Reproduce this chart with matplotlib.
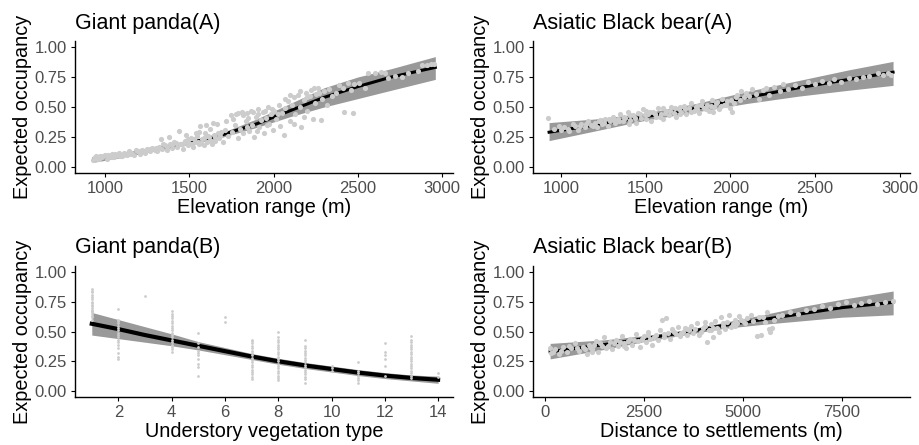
#!/usr/bin/env python3
import matplotlib
matplotlib.use("Agg")
import matplotlib.pyplot as plt

plt.rcParams["font.family"] = ["Liberation Sans", "DejaVu Sans"]

# ---- Giant panda(A): elevation ----
pa_curve_x = [935, 1100, 1300, 1500, 1700, 1900, 2100, 2300, 2500, 2700, 2960]
pa_mid = [0.067, 0.10, 0.15, 0.20, 0.27, 0.36, 0.47, 0.58, 0.67, 0.75, 0.83]
pa_lo = [0.04, 0.08, 0.135, 0.185, 0.25, 0.33, 0.42, 0.50, 0.57, 0.64, 0.73]
pa_hi = [0.10, 0.12, 0.165, 0.215, 0.29, 0.40, 0.53, 0.66, 0.75, 0.82, 0.92]
pa_pts_x = [930, 940, 955, 970, 985, 1000, 1010, 1025, 1040, 1055, 1070, 1085, 1100,
            1115, 1130, 1145, 1160, 1175, 1190, 1205, 1220, 1235, 1250, 1265, 1280, 1295,
            1310, 1320, 1330, 1340, 1355, 1370, 1385, 1400, 1410, 1425, 1440, 1450, 1460,
            1475, 1490, 1500, 1510, 1520, 1535, 1545, 1555, 1565, 1575, 1585, 1595, 1605,
            1615, 1625, 1635, 1645, 1655, 1665, 1675, 1690, 1700,
            945, 965, 990, 1015, 1035, 1060, 1090, 1110, 1135, 1155, 1185, 1210, 1240,
            1270, 1300, 1315, 1345, 1365, 1395, 1420, 1445, 1470, 1495, 1515, 1530, 1550,
            1570, 1590, 1610, 1630, 1650, 1670, 1685, 1560, 1600, 1640, 1540, 1480, 1380,
            1710, 1720, 1730, 1745, 1755, 1770, 1780, 1790, 1800, 1810, 1820, 1835, 1845,
            1855, 1865, 1875, 1885, 1895, 1905, 1915, 1925, 1935, 1945, 1955, 1965, 1975,
            1985, 1995, 2005, 2015, 2030, 2040, 2050, 2060,
            1760, 1790, 1820, 1850, 1880, 1910, 1950, 1990, 2025, 2070, 2100, 2160, 2200,
            2240, 2270, 1840, 1900, 1960, 2120, 2180,
            2070, 2085, 2095, 2110, 2120, 2130, 2145, 2155, 2165, 2180, 2190, 2200, 2215,
            2225, 2235, 2245, 2255, 2265, 2280, 2290, 2300, 2315, 2330, 2345, 2420, 2470,
            2370, 2390, 2410, 2440, 2460, 2480, 2510, 2540, 2560, 2600, 2640, 2660, 2680,
            2720, 2760, 2800, 2860, 2880, 2910, 2935, 2955]
pa_pts_y = [0.06, 0.08, 0.07, 0.09, 0.08, 0.10, 0.07, 0.09, 0.11, 0.08, 0.10, 0.12, 0.09,
            0.11, 0.10, 0.13, 0.12, 0.10, 0.13, 0.11, 0.14, 0.12, 0.15, 0.13, 0.16, 0.14,
            0.13, 0.17, 0.23, 0.15, 0.18, 0.14, 0.19, 0.16, 0.21, 0.17, 0.30, 0.19, 0.15,
            0.22, 0.18, 0.20, 0.24, 0.17, 0.21, 0.26, 0.19, 0.34, 0.23, 0.18, 0.28, 0.21,
            0.25, 0.32, 0.19, 0.27, 0.22, 0.36, 0.24, 0.29, 0.21,
            0.09, 0.07, 0.09, 0.10, 0.08, 0.11, 0.09, 0.12, 0.12, 0.11, 0.14, 0.13, 0.13,
            0.15, 0.16, 0.15, 0.19, 0.17, 0.18, 0.20, 0.19, 0.20, 0.23, 0.19, 0.23, 0.21,
            0.20, 0.24, 0.26, 0.22, 0.25, 0.28, 0.26, 0.29, 0.35, 0.37, 0.28, 0.27, 0.25,
            0.31, 0.38, 0.26, 0.43, 0.29, 0.35, 0.44, 0.24, 0.32, 0.46, 0.28, 0.38, 0.45,
            0.30, 0.47, 0.35, 0.25, 0.42, 0.48, 0.33, 0.39, 0.46, 0.28, 0.41, 0.50, 0.36,
            0.44, 0.31, 0.47, 0.40, 0.52, 0.34, 0.45, 0.27,
            0.40, 0.45, 0.43, 0.41, 0.46, 0.44, 0.47, 0.48, 0.44, 0.57, 0.60, 0.63, 0.58,
            0.66, 0.62, 0.33, 0.30, 0.35, 0.36, 0.42,
            0.49, 0.55, 0.38, 0.52, 0.58, 0.44, 0.60, 0.50, 0.33, 0.56, 0.62, 0.47, 0.59,
            0.64, 0.40, 0.53, 0.61, 0.66, 0.39, 0.57, 0.63, 0.52, 0.65, 0.59, 0.46, 0.45,
            0.62, 0.68, 0.66, 0.70, 0.64, 0.69, 0.70, 0.66, 0.78, 0.78, 0.79, 0.78, 0.74,
            0.76, 0.75, 0.78, 0.80, 0.85, 0.85, 0.86, 0.86]

# ---- Asiatic Black bear(A): elevation ----
ba_curve_x = [930, 1200, 1500, 1800, 2100, 2400, 2700, 2960]
ba_mid = [0.29, 0.35, 0.42, 0.49, 0.58, 0.66, 0.73, 0.79]
ba_lo = [0.22, 0.30, 0.39, 0.46, 0.53, 0.59, 0.64, 0.68]
ba_hi = [0.37, 0.40, 0.45, 0.53, 0.63, 0.72, 0.81, 0.88]
ba_pts_x = [925, 960, 1000, 1020, 1050, 1080, 1100, 1120, 1140, 1160, 1180, 1200, 1215,
            1230, 1245, 1260, 1275, 1290, 1305, 1320, 1335, 1350, 1365, 1380, 1395, 1410,
            1425, 1440, 1455, 1470, 1485, 1500, 1515, 1530, 1545, 1560, 1575, 1590, 1605,
            1620, 1635, 1650, 1665, 1680, 1695, 1710, 1725, 1740, 1755, 1770, 1785, 1800,
            1815, 1830, 1845, 1860, 1875, 1890, 1905, 1920, 1935, 1950, 1965, 1980, 1995,
            990, 1040, 1070, 1110, 1150, 1190, 1225, 1255, 1285, 1315, 1345, 1375, 1405,
            1435, 1465, 1495, 1525, 1555, 1585, 1615, 1645, 1675, 1705, 1735, 1765, 1795,
            1825, 1855, 1885, 1915, 1945, 1975, 2005, 2035, 1400, 1500, 1600, 1700, 1800, 1900,
            2010, 2020, 2040, 2055, 2065, 2080, 2095, 2110, 2130, 2150, 2170, 2190, 2210,
            2230, 2260, 2290, 2310, 2340, 2380, 2420, 2460, 2500, 2540, 2580, 2610, 2650,
            2700, 2740, 2780, 2820, 2870, 2900, 2930, 2950]
ba_pts_y = [0.41, 0.32, 0.31, 0.33, 0.30, 0.34, 0.31, 0.36, 0.33, 0.38, 0.35, 0.37, 0.33,
            0.39, 0.36, 0.40, 0.34, 0.38, 0.42, 0.37, 0.40, 0.44, 0.38, 0.41, 0.46, 0.39,
            0.43, 0.37, 0.45, 0.41, 0.48, 0.40, 0.44, 0.38, 0.46, 0.42, 0.49, 0.44, 0.40,
            0.47, 0.43, 0.50, 0.45, 0.42, 0.48, 0.46, 0.51, 0.44, 0.49, 0.53, 0.47, 0.51,
            0.45, 0.55, 0.49, 0.52, 0.47, 0.56, 0.50, 0.54, 0.48, 0.57, 0.52, 0.55, 0.49,
            0.34, 0.32, 0.36, 0.34, 0.36, 0.34, 0.38, 0.37, 0.40, 0.39, 0.38, 0.42, 0.43,
            0.41, 0.44, 0.43, 0.46, 0.44, 0.42, 0.45, 0.47, 0.49, 0.44, 0.48, 0.46, 0.50,
            0.52, 0.48, 0.51, 0.53, 0.51, 0.52, 0.56, 0.58, 0.36, 0.47, 0.49, 0.50, 0.48, 0.46,
            0.46, 0.53, 0.60, 0.56, 0.63, 0.58, 0.62, 0.59, 0.65, 0.61, 0.57, 0.64, 0.66,
            0.60, 0.67, 0.63, 0.69, 0.65, 0.68, 0.66, 0.71, 0.69, 0.72, 0.70, 0.73, 0.71,
            0.74, 0.73, 0.75, 0.76, 0.78, 0.77, 0.78, 0.77]

# ---- Giant panda(B): understory vegetation type ----
pb_curve_x = [1, 2, 3, 4, 5, 6, 7, 8, 9, 10, 11, 12, 13, 14]
pb_mid = [0.565, 0.52, 0.47, 0.425, 0.38, 0.335, 0.29, 0.25, 0.215, 0.185, 0.155, 0.13, 0.11, 0.095]
pb_lo = [0.47, 0.44, 0.41, 0.38, 0.345, 0.305, 0.265, 0.225, 0.19, 0.16, 0.13, 0.105, 0.085, 0.065]
pb_hi = [0.66, 0.60, 0.54, 0.48, 0.415, 0.365, 0.315, 0.275, 0.24, 0.21, 0.18, 0.155, 0.135, 0.125]
pb_types = [1, 2, 3, 4, 5, 6, 7, 8, 9, 10, 11, 12, 13, 14]
pb_occ = [
    [0.60, 0.62, 0.63, 0.65, 0.66, 0.67, 0.68, 0.70, 0.71, 0.72, 0.74, 0.75, 0.77, 0.79, 0.81, 0.83, 0.84, 0.86],
    [0.27, 0.29, 0.32, 0.36, 0.39, 0.41, 0.43, 0.45, 0.47, 0.49, 0.51, 0.53, 0.55, 0.57, 0.59, 0.60, 0.69],
    [0.80],
    [0.33, 0.35, 0.37, 0.39, 0.41, 0.43, 0.45, 0.47, 0.49, 0.51, 0.53, 0.55, 0.57, 0.59, 0.61, 0.63, 0.65, 0.67],
    [0.13, 0.20, 0.23, 0.27, 0.30, 0.32, 0.34, 0.37, 0.40, 0.49],
    [0.58, 0.62],
    [0.10, 0.12, 0.14, 0.16, 0.18, 0.20, 0.22, 0.24, 0.26, 0.28, 0.30, 0.32, 0.34, 0.36, 0.38, 0.40, 0.42, 0.43],
    [0.09, 0.11, 0.13, 0.15, 0.17, 0.19, 0.21, 0.23, 0.25, 0.27, 0.29, 0.31, 0.33, 0.35, 0.37, 0.39, 0.41, 0.43, 0.45, 0.50],
    [0.07, 0.10, 0.12, 0.14, 0.16, 0.18, 0.20, 0.22, 0.24, 0.26, 0.28, 0.30, 0.32, 0.34, 0.36, 0.38, 0.43],
    [0.17, 0.19, 0.21],
    [0.07, 0.09, 0.11, 0.13, 0.15, 0.17, 0.24],
    [0.13, 0.21, 0.27, 0.30, 0.33, 0.40],
    [0.11, 0.13, 0.15, 0.17, 0.19, 0.21, 0.23, 0.25, 0.27, 0.29, 0.31, 0.33, 0.35, 0.37, 0.39, 0.41, 0.43, 0.46],
    [0.12, 0.15],
]

# ---- Asiatic Black bear(B): distance to settlements ----
bb_curve_x = [130, 1500, 2500, 3500, 4500, 5500, 6500, 7500, 8800]
bb_mid = [0.33, 0.39, 0.44, 0.49, 0.55, 0.60, 0.65, 0.70, 0.745]
bb_lo = [0.27, 0.35, 0.415, 0.47, 0.525, 0.56, 0.59, 0.62, 0.64]
bb_hi = [0.40, 0.43, 0.465, 0.51, 0.575, 0.64, 0.71, 0.77, 0.84]
bb_pts_x = [120, 150, 250, 350, 450, 550, 650, 750, 850, 950, 1050, 1100, 1200, 1300,
            1350, 1450, 1500, 1550, 1650, 1700, 1800, 1850, 1950, 2000, 2050, 2150, 2200,
            2300, 2350, 2400, 2500, 2550, 2600, 2650, 2700, 2800, 2850, 2900, 2950, 3000,
            3050, 3100, 3150, 3200, 3300, 3350, 3400, 3500, 3550, 3600, 3700, 3750, 3800,
            3850, 3900, 4000, 4050, 4100, 4150, 4200, 4250, 4300, 4350, 4400, 4450, 4500,
            4550, 4600, 4650, 4700, 4800, 4850, 4900, 5000, 5100, 5200, 5350, 5450, 5500,
            5600, 5650, 5700, 5750, 5800, 5900, 6000, 6200, 6400, 6600, 6800, 7000, 7200,
            7400, 7600, 7800, 8000, 8200, 8400, 8600, 8800,
            200, 400, 600, 800, 1000, 1150, 1250, 1400, 1600, 1750, 1900, 2100, 2250,
            2450, 2750, 3250, 3450, 3650, 3950, 4050, 4250, 4500, 4750, 4950, 5050, 5250,
            5400, 5550, 1200, 2000, 2600, 3000, 3600, 4200, 4800]
bb_pts_y = [0.36, 0.32, 0.35, 0.31, 0.37, 0.33, 0.36, 0.40, 0.34, 0.37, 0.31, 0.39, 0.35,
            0.42, 0.33, 0.38, 0.45, 0.36, 0.41, 0.35, 0.43, 0.38, 0.46, 0.40, 0.36, 0.44,
            0.39, 0.48, 0.42, 0.37, 0.46, 0.41, 0.50, 0.44, 0.39, 0.47, 0.43, 0.51, 0.60,
            0.45, 0.61, 0.49, 0.44, 0.52, 0.48, 0.54, 0.46, 0.50, 0.53, 0.47, 0.55, 0.49,
            0.52, 0.57, 0.47, 0.53, 0.58, 0.41, 0.51, 0.56, 0.45, 0.59, 0.53, 0.50, 0.62,
            0.55, 0.52, 0.58, 0.64, 0.54, 0.60, 0.57, 0.63, 0.59, 0.61, 0.64, 0.46, 0.47,
            0.62, 0.66, 0.52, 0.50, 0.53, 0.60, 0.63, 0.64, 0.66, 0.65, 0.68, 0.69, 0.71,
            0.70, 0.73, 0.75, 0.72, 0.74, 0.76, 0.73, 0.75, 0.76,
            0.33, 0.34, 0.38, 0.36, 0.35, 0.37, 0.39, 0.40, 0.38, 0.40, 0.41, 0.42, 0.43,
            0.44, 0.45, 0.50, 0.49, 0.51, 0.50, 0.55, 0.53, 0.57, 0.56, 0.60, 0.57, 0.59,
            0.62, 0.58, 0.33, 0.38, 0.47, 0.48, 0.52, 0.51, 0.55]

y_ticks = [0.0, 0.25, 0.5, 0.75, 1.0]
y_labels = ["0.00", "0.25", "0.50", "0.75", "1.00"]


def draw_panel(ax, cx, mid, lo, hi, px, py, title, xlabel, xlim, xticks,
               pt_size, line_w):
    ax.fill_between(cx, lo, hi, color="#999999", linewidth=0, zorder=1)
    ax.plot(cx, mid, color="black", linewidth=line_w, zorder=2)
    ax.scatter(px, py, s=pt_size, color="#cccccc", linewidths=0, zorder=3)
    ax.set_xlim(*xlim)
    ax.set_ylim(-0.05, 1.05)
    ax.set_xticks(xticks)
    ax.set_yticks(y_ticks)
    ax.set_yticklabels(y_labels)
    for side in ("top", "right"):
        ax.spines[side].set_visible(False)
    for side in ("left", "bottom"):
        ax.spines[side].set_linewidth(1.0)
    ax.tick_params(direction="out", length=3, width=0.8, color="black",
                   labelsize=12, labelcolor="#4d4d4d", pad=3)
    ax.set_title(title, loc="left", fontsize=15.5, pad=9)
    ax.set_xlabel(xlabel, fontsize=14.3, labelpad=1.5)
    ax.set_ylabel("Expected occupancy", fontsize=14.3, labelpad=2)


fig = plt.figure(figsize=(9.2, 4.45), dpi=100)
ax_tl = fig.add_axes([75 / 920, 1 - 173 / 445, 378 / 920, 132 / 445])
ax_tr = fig.add_axes([533 / 920, 1 - 173 / 445, 377 / 920, 132 / 445])
ax_bl = fig.add_axes([75 / 920, 1 - 397 / 445, 378 / 920, 131 / 445])
ax_br = fig.add_axes([533 / 920, 1 - 397 / 445, 377 / 920, 131 / 445])

draw_panel(ax_tl, pa_curve_x, pa_mid, pa_lo, pa_hi, pa_pts_x, pa_pts_y,
           "Giant panda(A)", "Elevation range (m)", (822, 3065),
           [1000, 1500, 2000, 2500, 3000], 14, 2.2)
draw_panel(ax_tr, ba_curve_x, ba_mid, ba_lo, ba_hi, ba_pts_x, ba_pts_y,
           "Asiatic Black bear(A)", "Elevation range (m)", (835, 3060),
           [1000, 1500, 2000, 2500, 3000], 14, 2.2)

pb_x = [t for t, vals in zip(pb_types, pb_occ) for _ in vals]
pb_y = [v for vals in pb_occ for v in vals]
draw_panel(ax_bl, pb_curve_x, pb_mid, pb_lo, pb_hi, pb_x, pb_y,
           "Giant panda(B)", "Understory vegetation type", (0.37, 14.56),
           [2, 4, 6, 8, 10, 12, 14], 4, 3.0)
draw_panel(ax_br, bb_curve_x, bb_mid, bb_lo, bb_hi, bb_pts_x, bb_pts_y,
           "Asiatic Black bear(B)", "Distance to settlements (m)", (-303, 9226),
           [0, 2500, 5000, 7500], 14, 2.2)

fig.savefig("out.png", dpi=100)
